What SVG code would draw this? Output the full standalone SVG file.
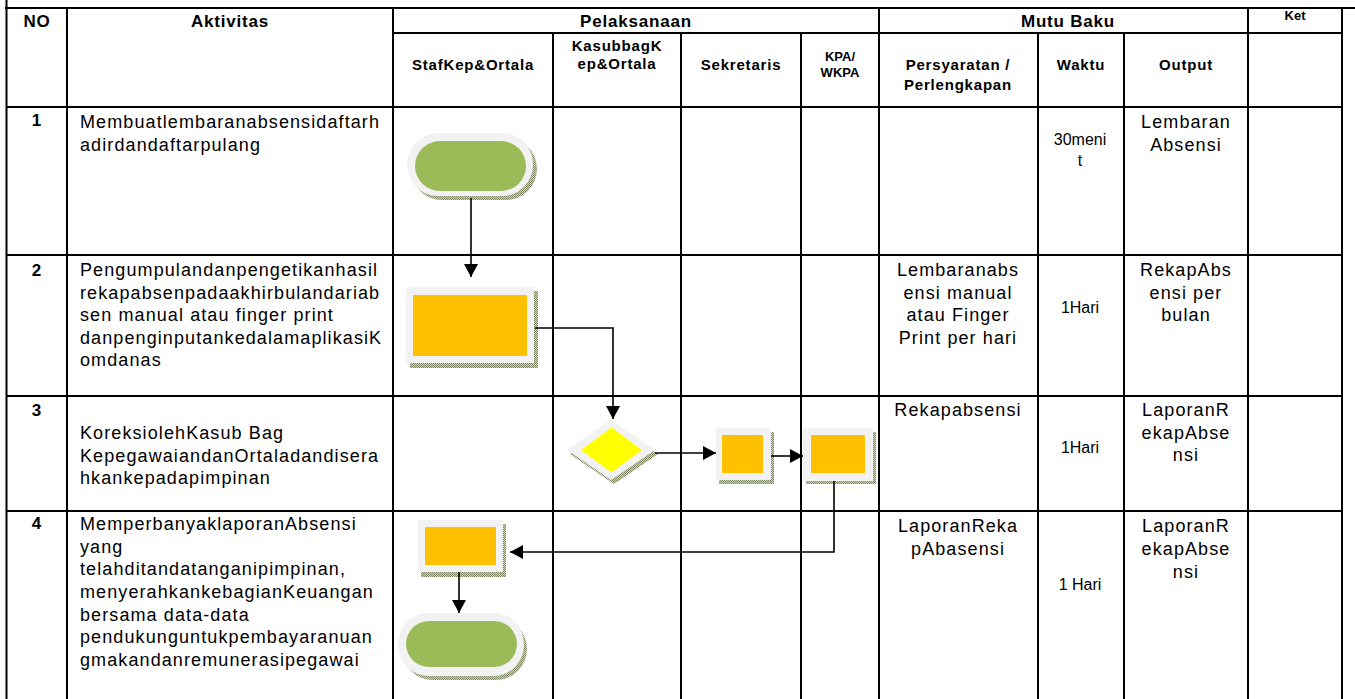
<svg xmlns="http://www.w3.org/2000/svg" width="1355" height="699" viewBox="0 0 1355 699">
<defs>
<pattern id="dots" width="2" height="2" patternUnits="userSpaceOnUse"><rect width="2" height="2" fill="#d3d8c2"/><rect width="1" height="1" fill="#7a8560"/><rect x="1" y="1" width="1" height="1" fill="#7a8560"/></pattern>
<marker id="ah" viewBox="0 0 13 14" refX="13" refY="7" markerWidth="13" markerHeight="14" markerUnits="userSpaceOnUse" orient="auto"><path d="M0,0 L13,7 L0,14 Z" fill="#000"/></marker>
</defs>
<style>
.grid line{stroke:#000;stroke-width:2}
.b{stroke:#000;stroke-width:3}
text{font-family:"Liberation Sans",Arial,sans-serif;fill:#000}
.h{font-size:17px;font-weight:bold;text-anchor:middle;letter-spacing:0.8px}
.sh{font-size:15px;font-weight:bold;text-anchor:middle;letter-spacing:0.8px}
.sm{font-size:13px;font-weight:bold;text-anchor:middle}
.t{font-size:18px;letter-spacing:1.1px}
.c{font-size:18px;letter-spacing:1.1px;text-anchor:middle}
.w{font-size:16px;text-anchor:middle}
.sh2{fill:url(#dots)}
.out{fill:#f2f2f2}
.grn{fill:#9bbb59}
.org{fill:#ffc000}
.yel{fill:#ffff00}
.conn path{fill:none;stroke:#000;stroke-width:1.6;marker-end:url(#ah)}
</style>
<rect width="1355" height="699" fill="#fff"/>
<g class="grid">
<line class="b" x1="5" y1="8" x2="1355" y2="8"/>
<line class="b" x1="6.5" y1="0" x2="6.5" y2="699"/>
<line class="b" x1="1342" y1="8" x2="1342" y2="699"/>
<line x1="393" y1="33" x2="1342" y2="33"/>
<line x1="7" y1="107" x2="1342" y2="107"/>
<line x1="7" y1="255" x2="1342" y2="255"/>
<line x1="7" y1="396" x2="1342" y2="396"/>
<line x1="7" y1="511" x2="1342" y2="511"/>
<line x1="67" y1="8" x2="67" y2="699"/>
<line x1="393" y1="8" x2="393" y2="699"/>
<line x1="553" y1="33" x2="553" y2="699"/>
<line x1="681" y1="33" x2="681" y2="699"/>
<line x1="801" y1="33" x2="801" y2="699"/>
<line x1="879" y1="8" x2="879" y2="699"/>
<line x1="1038" y1="33" x2="1038" y2="699"/>
<line x1="1124" y1="33" x2="1124" y2="699"/>
<line x1="1248" y1="8" x2="1248" y2="699"/>
</g>
<g id="header">
<text class="h" x="37" y="27">NO</text>
<text class="h" x="230" y="27">Aktivitas</text>
<text class="h" x="636" y="27">Pelaksanaan</text>
<text class="h" x="1068" y="27">Mutu Baku</text>
<text class="sm" x="1295" y="20">Ket</text>
<text class="sh" x="473" y="70">StafKep&amp;Ortala</text>
<text class="sh" x="617" y="51">KasubbagK</text>
<text class="sh" x="617" y="69">ep&amp;Ortala</text>
<text class="sh" x="741" y="70">Sekretaris</text>
<text class="sm" x="840" y="61">KPA/</text>
<text class="sm" x="840" y="77">WKPA</text>
<text class="sh" x="958" y="70">Persyaratan /</text>
<text class="sh" x="958" y="90">Perlengkapan</text>
<text class="sh" x="1081" y="70">Waktu</text>
<text class="sh" x="1186" y="70">Output</text>
</g>
<g id="row1">
<text class="h" x="37" y="126">1</text>
<text class="t" x="80" y="128">Membuatlembaranabsensidaftarh</text>
<text class="t" x="80" y="150.5">adirdandaftarpulang</text>
<text class="w" x="1080" y="145">30meni</text>
<text class="w" x="1080" y="166">t</text>
<text class="c" x="1186" y="128">Lembaran</text>
<text class="c" x="1186" y="150.5">Absensi</text>
</g>
<g id="row2">
<text class="h" x="37" y="276">2</text>
<text class="t" x="80" y="276">Pengumpulandanpengetikanhasil</text>
<text class="t" x="80" y="298.5">rekapabsenpadaakhirbulandariab</text>
<text class="t" x="80" y="321">sen manual atau finger print</text>
<text class="t" x="80" y="343.5">danpenginputankedalamaplikasiK</text>
<text class="t" x="80" y="366">omdanas</text>
<text class="c" x="958" y="276">Lembaranabs</text>
<text class="c" x="958" y="298.5">ensi manual</text>
<text class="c" x="958" y="321">atau Finger</text>
<text class="c" x="958" y="343.5">Print per hari</text>
<text class="w" x="1080" y="313">1Hari</text>
<text class="c" x="1186" y="276">RekapAbs</text>
<text class="c" x="1186" y="298.5">ensi per</text>
<text class="c" x="1186" y="321">bulan</text>
</g>
<g id="row3">
<text class="h" x="37" y="416">3</text>
<text class="t" x="80" y="439">KoreksiolehKasub Bag</text>
<text class="t" x="80" y="461.5">KepegawaiandanOrtaladandisera</text>
<text class="t" x="80" y="484">hkankepadapimpinan</text>
<text class="c" x="958" y="416">Rekapabsensi</text>
<text class="w" x="1080" y="453">1Hari</text>
<text class="c" x="1186" y="416">LaporanR</text>
<text class="c" x="1186" y="438.5">ekapAbse</text>
<text class="c" x="1186" y="461">nsi</text>
</g>
<g id="row4">
<text class="h" x="37" y="529">4</text>
<text class="t" x="80" y="530">MemperbanyaklaporanAbsensi</text>
<text class="t" x="80" y="552.7">yang</text>
<text class="t" x="80" y="575.3">telahditandatanganipimpinan,</text>
<text class="t" x="80" y="598">menyerahkankebagianKeuangan</text>
<text class="t" x="80" y="620.7">bersama data-data</text>
<text class="t" x="80" y="643.3">pendukunguntukpembayaranuan</text>
<text class="t" x="80" y="666">gmakandanremunerasipegawai</text>
<text class="c" x="958" y="532">LaporanReka</text>
<text class="c" x="958" y="555">pAbasensi</text>
<text class="w" x="1080" y="590">1 Hari</text>
<text class="c" x="1186" y="532">LaporanR</text>
<text class="c" x="1186" y="555">ekapAbse</text>
<text class="c" x="1186" y="577.5">nsi</text>
</g>
<g id="start">
<rect class="sh2" x="411" y="138" width="126" height="62" rx="31"/>
<rect class="out" x="407" y="133" width="126" height="63" rx="31"/>
<rect class="grn" x="415" y="141" width="111" height="50" rx="25"/>
</g>
<g id="step2">
<rect class="sh2" x="410" y="291" width="128" height="77"/>
<rect class="out" x="406" y="287" width="128" height="76"/>
<rect class="org" x="413" y="295" width="114" height="61"/>
</g>
<g id="decision">
<polygon class="sh2" points="570,454 614,424 658,454 614,484"/>
<polygon class="out" points="567,450 611,420 655,450 611,480"/>
<polygon class="yel" points="581,450 611.5,427.5 642,450 611.5,472.5"/>
</g>
<g id="sekretaris">
<rect class="sh2" x="719" y="432" width="55" height="52"/>
<rect class="out" x="716" y="428" width="55" height="52"/>
<rect class="org" x="722" y="435" width="41" height="38"/>
</g>
<g id="kpa">
<rect class="sh2" x="806" y="432" width="70" height="52"/>
<rect class="out" x="803" y="428" width="70" height="53"/>
<rect class="org" x="811" y="435" width="54" height="38"/>
</g>
<g id="step4">
<rect class="sh2" x="421" y="524" width="85" height="53"/>
<rect class="out" x="418" y="520" width="85" height="52"/>
<rect class="org" x="425" y="527" width="71" height="38"/>
</g>
<g id="end">
<rect class="sh2" x="402" y="618" width="125" height="62" rx="31"/>
<rect class="out" x="398" y="613" width="126" height="63" rx="31"/>
<rect class="grn" x="406" y="621" width="111" height="46" rx="23"/>
</g>
<g id="connectors" class="conn">
<path d="M471,198 V277"/>
<path d="M535,328 H613 V419"/>
<path d="M655,453 H716"/>
<path d="M771,456 H803"/>
<path d="M834,481 V552 H510"/>
<path d="M459,572 V613"/>
</g>
</svg>
